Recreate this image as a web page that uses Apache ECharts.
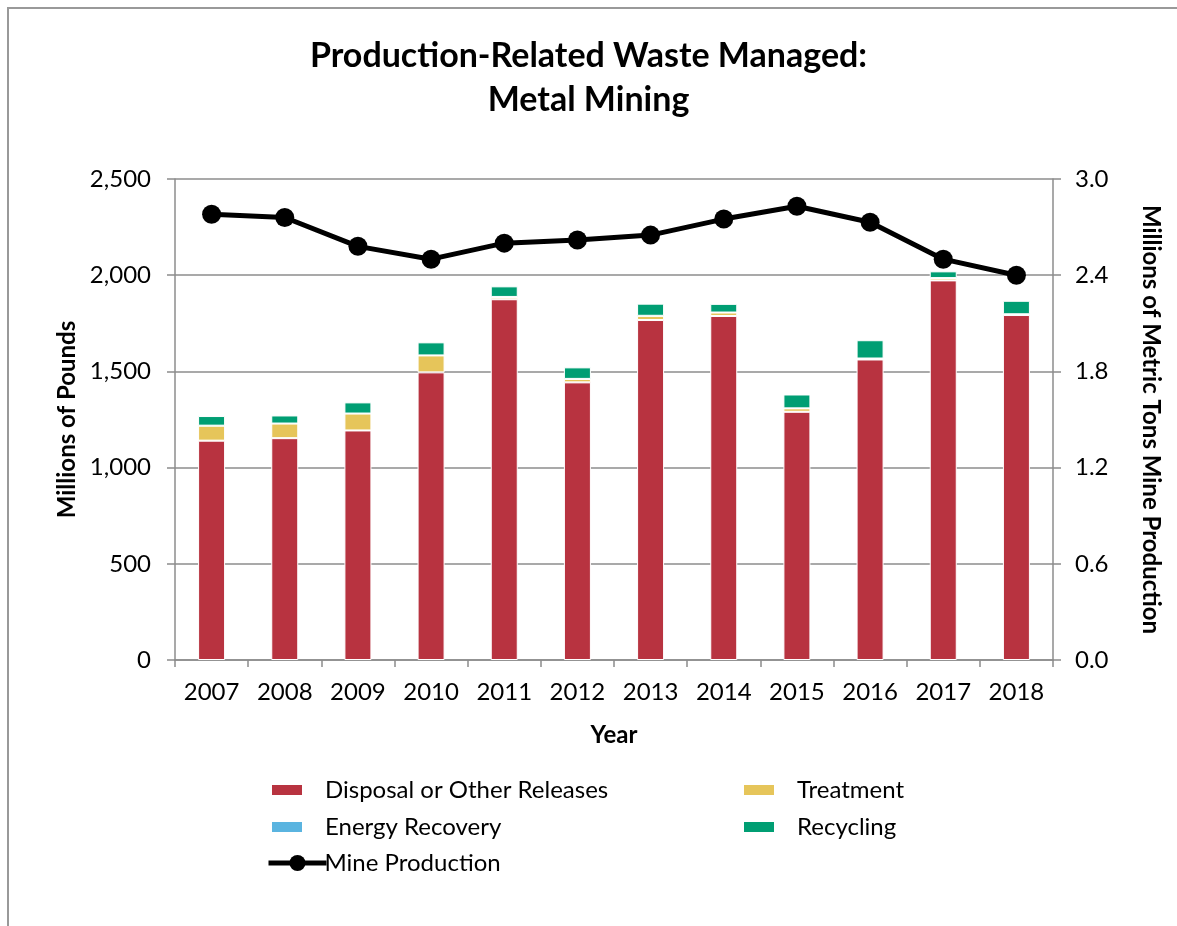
<!DOCTYPE html>
<html>
<head>
    <meta charset="utf-8">
    <title>Metal Mining</title>
    <script src="https://cdn.jsdelivr.net/npm/echarts@6/dist/echarts.min.js"></script>
    <style type="text/css">
        * { margin: 0; padding: 0; }
        body { background: #fff; }
    </style>
</head>
<body>
<div id="main" style="width: 1177px; height: 926px;"></div>
<script type="text/javascript">
    // data
    var years = ['2007', '2008', '2009', '2010', '2011', '2012', '2013', '2014', '2015', '2016', '2017', '2018'];
    var disposal = [1140, 1153, 1193, 1495, 1875, 1443, 1767, 1788, 1290, 1562, 1973, 1793];
    var treatment = [78, 76, 88, 88, 12, 18, 22, 18, 18, 5, 12, 4];
    var energyRecovery = [0, 0, 0, 0, 0, 0, 0, 0, 0, 0, 0, 0];
    var recycling = [50, 42, 58, 68, 55, 60, 63, 45, 72, 95, 35, 70];
    var mineProduction = [2.78, 2.76, 2.58, 2.50, 2.60, 2.62, 2.65, 2.75, 2.83, 2.73, 2.50, 2.40];

    var font = 'Lato, "Open Sans", sans-serif';
    var gray = '#8c8c8c';
    var fs = 24;

    var myChart = echarts.init(document.getElementById('main'));

    function legendAt(name, left, top) {
        return {
            data: [name],
            left: left,
            top: top,
            padding: 0,
            icon: 'rect',
            itemWidth: 32,
            itemHeight: 12,
            textStyle: { fontSize: fs, color: '#000', fontFamily: font, padding: [0, 0, 0, 17] }
        };
    }

    function barSeries(name, data, color) {
        return {
            name: name,
            type: 'bar',
            stack: 'waste',
            barWidth: 27,
            itemStyle: { color: color, borderColor: '#fff', borderWidth: 1 },
            data: data
        };
    }

    var option = {
        animation: false,
        title: {
            text: 'Production-Related Waste Managed:\nMetal Mining',
            left: 'center',
            top: 29,
            textStyle: { fontSize: 34, fontWeight: 'bold', color: '#000', fontFamily: font, lineHeight: 44 }
        },
        legend: [
            legendAt('Disposal or Other Releases', 270, 778),
            legendAt('Treatment', 742, 778),
            legendAt('Energy Recovery', 270, 815),
            legendAt('Recycling', 742, 815),
            {
                data: ['Mine Production'],
                left: 266,
                top: 851,
                padding: 0,
                itemWidth: 58,
                itemHeight: 20,
                lineStyle: { width: 5 },
                textStyle: { fontSize: fs, color: '#000', fontFamily: font, padding: [0, 0, 0, -7] }
            }
        ],
        grid: { left: 175, right: 124, top: 179, bottom: 266 },
        xAxis: {
            type: 'category',
            data: years,
            name: 'Year',
            nameLocation: 'middle',
            nameGap: 63,
            nameTextStyle: { fontSize: fs, fontWeight: 'bold', color: '#000', fontFamily: font },
            axisLine: { lineStyle: { color: gray, width: 1.5 } },
            axisTick: { show: true, length: 7, lineStyle: { color: gray, width: 1.5 } },
            axisLabel: { fontSize: fs, color: '#000', fontFamily: font, margin: 20 }
        },
        yAxis: [
            {
                type: 'value',
                min: 0,
                max: 2500,
                interval: 500,
                name: 'Millions of Pounds',
                nameLocation: 'middle',
                nameGap: 95,
                nameTextStyle: { fontSize: fs, fontWeight: 'bold', color: '#000', fontFamily: font },
                axisLine: { show: true, lineStyle: { color: gray, width: 1.5 } },
                axisTick: { show: true, length: 8, lineStyle: { color: gray, width: 1.5 } },
                splitLine: { lineStyle: { color: gray, width: 1.5 } },
                axisLabel: {
                    fontSize: fs, color: '#000', fontFamily: font, margin: 24,
                    formatter: function (v) { return v.toLocaleString('en-US'); }
                }
            },
            {
                type: 'value',
                min: 0,
                max: 3.0,
                interval: 0.6,
                name: 'Millions of Metric Tons Mine Production',
                nameLocation: 'middle',
                nameGap: 86,
                nameRotate: -90,
                nameTextStyle: { fontSize: fs, fontWeight: 'bold', color: '#000', fontFamily: font },
                axisLine: { show: true, lineStyle: { color: gray, width: 1.5 } },
                axisTick: { show: true, length: 8, lineStyle: { color: gray, width: 1.5 } },
                splitLine: { show: false },
                axisLabel: {
                    fontSize: fs, color: '#000', fontFamily: font, margin: 22,
                    formatter: function (v) { return v.toFixed(1); }
                }
            }
        ],
        graphic: [{
            type: 'polyline',
            shape: { points: [[8, 926], [8, 8], [1177, 8]] },
            style: { stroke: '#999', lineWidth: 2, fill: null }
        }],
        series: [
            barSeries('Disposal or Other Releases', disposal, '#b83340'),
            barSeries('Treatment', treatment, '#e6c55a'),
            barSeries('Energy Recovery', energyRecovery, '#5ab4e0'),
            barSeries('Recycling', recycling, '#009e73'),
            {
                name: 'Mine Production',
                type: 'line',
                yAxisIndex: 1,
                data: mineProduction,
                symbol: 'circle',
                symbolSize: 19,
                itemStyle: { color: '#000' },
                lineStyle: { color: '#000', width: 5 },
                z: 5
            }
        ]
    };

    myChart.setOption(option);
</script>
</body>
</html>
